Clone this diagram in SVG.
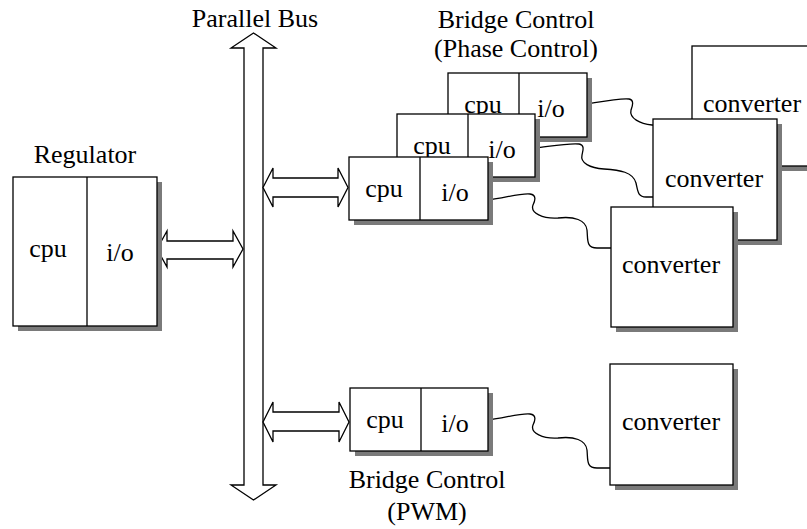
<svg xmlns="http://www.w3.org/2000/svg" width="807" height="529" viewBox="0 0 807 529">
  <style>
    .t { font-family: "Liberation Serif", "Times New Roman", serif; font-size: 26px; fill: #000; text-anchor: middle; }
    .box { fill: #fff; stroke: #000; stroke-width: 1.3; }
    .shadow { fill: #7a7a7a; stroke: none; }
    .div { stroke: #000; stroke-width: 1.3; fill: none; }
    .arrow { fill: #fff; stroke: #000; stroke-width: 1.3; stroke-linejoin: miter; }
    .wire { fill: none; stroke: #000; stroke-width: 1.3; }
  </style>

  <!-- wires from bridge control i/o to converters (drawn first, so boxes sit on top) -->
  <g id="connectors">
    <path class="wire" d="M587,104 C605,101 620,98 629,99 C635,100 632,107 631,110 C629,118 640,124 652,125 L700,128"/>
    <path class="wire" d="M535,148 C552,146 568,143 579,144 C585,145 583,151 582,155 C580,163 590,168 604,169 C620,170 633,172 636,183 C638,192 638,197 646,197 L653,197"/>
    <path class="wire" d="M488,200 C505,198 520,193 530,194 C537,195 535,201 533,205 C530,213 543,219 558,218 C574,216 586,220 587,230 C588,240 586,248 597,248 L611,248"/>
    <path class="wire" d="M488,420 C505,418 520,413 530,414 C537,415 535,421 533,425 C530,433 543,439 558,438 C574,436 586,440 587,450 C588,460 586,468 597,468 L611,468"/>

    <!-- parallel bus -->
    <polygon class="arrow" points="253.5,33 276,48 263,48 263,485 276,485 253.5,500 231,485 244,485 244,48 231,48"/>
    <!-- bus links -->
    <polygon class="arrow" points="157,249 167,231 167,241 233,241 233,231 243,249 233,267 233,259 167,259 167,267"/>
    <polygon class="arrow" points="263,187.5 273,168 273,178 338,178 338,168 348,187.5 338,207 338,197 273,197 273,207"/>
    <polygon class="arrow" points="263,422 273,402 273,412 339,412 339,402 349,422 339,442 339,431 273,431 273,442"/>
  </g>

  <text class="t" x="255" y="27">Parallel Bus</text>

  <!-- regulator -->
  <g id="regulator">
    <text class="t" x="85" y="163">Regulator</text>
    <rect class="shadow" x="18" y="182" width="144" height="149"/>
    <rect class="box" x="13" y="177" width="144" height="149"/>
    <line class="div" x1="87" y1="177" x2="87" y2="326"/>
    <text class="t" x="48" y="257">cpu</text>
    <text class="t" x="120" y="261">i/o</text>
  </g>

  <!-- bridge control (phase control), three stacked units -->
  <g id="bridge-phase">
    <text class="t" x="516" y="28">Bridge Control</text>
    <text class="t" x="516" y="57">(Phase Control)</text>

    <rect class="shadow" x="453" y="78" width="139" height="64"/>
    <rect class="box" x="448" y="73" width="139" height="64"/>
    <line class="div" x1="519" y1="73" x2="519" y2="137"/>
    <text class="t" x="483" y="113">cpu</text>
    <text class="t" x="551" y="117">i/o</text>

    <rect class="shadow" x="402" y="119" width="138" height="63"/>
    <rect class="box" x="397" y="114" width="138" height="63"/>
    <line class="div" x1="468" y1="114" x2="468" y2="177"/>
    <text class="t" x="432" y="154">cpu</text>
    <text class="t" x="502" y="158">i/o</text>

    <rect class="shadow" x="354" y="162" width="139" height="63"/>
    <rect class="box" x="349" y="157" width="139" height="63"/>
    <line class="div" x1="420" y1="157" x2="420" y2="220"/>
    <text class="t" x="384" y="197">cpu</text>
    <text class="t" x="455" y="201">i/o</text>
  </g>

  <!-- converters for phase control -->
  <g id="converter-back">
    <rect class="shadow" x="697" y="51" width="123" height="120"/>
    <rect class="box" x="692" y="46" width="123" height="120"/>
    <text class="t" x="752" y="112">converter</text>
  </g>
  <g id="converter-middle">
    <rect class="shadow" x="658" y="124" width="124" height="121"/>
    <rect class="box" x="653" y="119" width="124" height="121"/>
    <text class="t" x="714" y="187">converter</text>
  </g>
  <g id="converter-front">
    <rect class="shadow" x="616" y="212" width="122" height="120"/>
    <rect class="box" x="611" y="207" width="122" height="120"/>
    <text class="t" x="671" y="273">converter</text>
  </g>

  <!-- bridge control (PWM) -->
  <g id="bridge-pwm">
    <rect class="shadow" x="355" y="393" width="138" height="63"/>
    <rect class="box" x="350" y="388" width="138" height="63"/>
    <line class="div" x1="421" y1="388" x2="421" y2="451"/>
    <text class="t" x="385" y="428">cpu</text>
    <text class="t" x="455" y="432">i/o</text>
    <text class="t" x="427" y="488">Bridge Control</text>
    <text class="t" x="427" y="520">(PWM)</text>
  </g>

  <g id="converter-pwm">
    <rect class="shadow" x="615" y="369" width="123" height="121"/>
    <rect class="box" x="610" y="364" width="123" height="121"/>
    <text class="t" x="671" y="430">converter</text>
  </g>
</svg>
